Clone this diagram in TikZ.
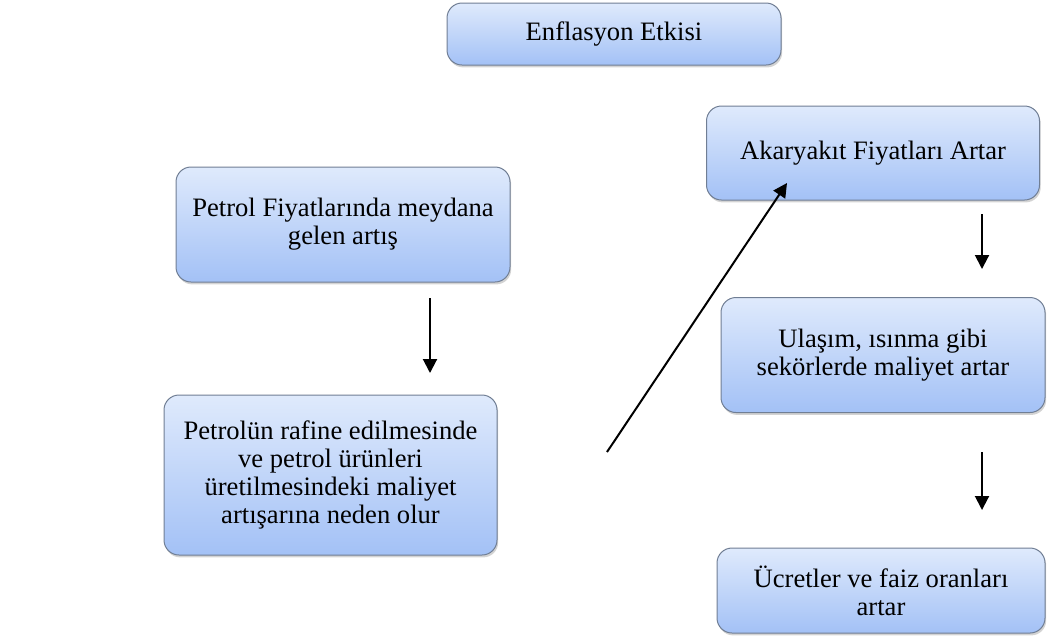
\documentclass[tikz,border=0pt]{standalone}
\usepackage{fontspec}
\setmainfont{Liberation Serif}
\usepackage{tikz}
\usetikzlibrary{shadows,arrows.meta}
\definecolor{boxtop}{HTML}{DFEAFC}
\definecolor{boxbot}{HTML}{A3C1F6}
\definecolor{boxline}{HTML}{707E94}
\tikzset{
  kutu/.style={draw=boxline, line width=0.5pt, rounded corners=7.5pt,
    top color=boxtop, bottom color=boxbot, align=center, inner sep=0pt,
    font=\fontsize{13.3}{14}\selectfont,
    drop shadow={opacity=0.35, shadow xshift=0.6pt, shadow yshift=-1.2pt}},
  ok/.style={-{Triangle[length=7pt,width=7pt]}, line width=1pt}
}
\begin{document}
\begin{tikzpicture}[x=0.5pt,y=-0.5pt]
\useasboundingbox (0,0) rectangle (1047,639);
%
\node[kutu, minimum width=167pt, minimum height=31pt] (etki) at (614,34) {Enflasyon Etkisi};
\node[kutu, minimum width=166.5pt, minimum height=47pt] (akaryakit) at (873,153) {Akaryakıt Fiyatları Artar};
\node[kutu, minimum width=167pt, minimum height=57.5pt] (petrol) at (343,224.5) {Petrol Fiyatlarında meydana\\gelen artış};
\node[kutu, minimum width=166.5pt, minimum height=80pt] (rafine) at (330.5,475) {Petrolün rafine edilmesinde\\ve petrol ürünleri\\üretilmesindeki maliyet\\artışarına neden olur};
\node[kutu, minimum width=162pt, minimum height=57.5pt] (ulasim) at (883,355) {Ulaşım, ısınma gibi\\sekörlerde maliyet artar};
\node[kutu, minimum width=164pt, minimum height=42.5pt] (ucret) at (881,590.5) {Ücretler ve faiz oranları\\artar};
%
\coordinate (a1) at (430,298);
\coordinate (a2) at (430,373);
\coordinate (b1) at (607,452);
\coordinate (b2) at (787,183);
\coordinate (c1) at (982,214);
\coordinate (c2) at (982,269);
\coordinate (d1) at (982,452);
\coordinate (d2) at (982,510);
%
\draw[ok] (a1) -- (a2);
\draw[ok] (b1) -- (b2);
\draw[ok] (c1) -- (c2);
\draw[ok] (d1) -- (d2);
\end{tikzpicture}
\end{document}
